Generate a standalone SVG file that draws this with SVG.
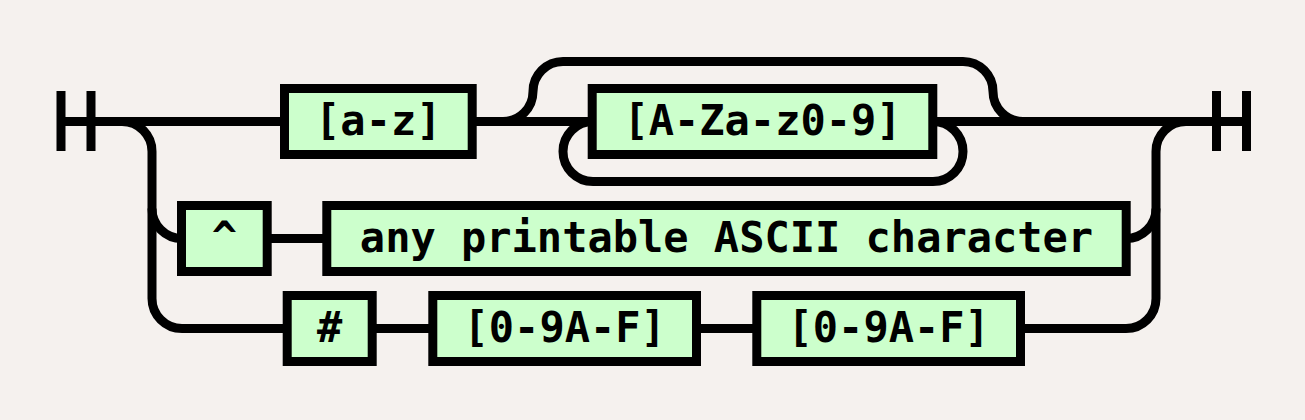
<svg xmlns="http://www.w3.org/2000/svg" width="1305" height="420" viewBox="0 0 1305 420">
<style>
.bg{fill:#f5f1ee}
.line{fill:none;stroke:#000;stroke-width:9}
.box{fill:#ccffcc;stroke:#000;stroke-width:9}
.lbl{font-family:"DejaVu Sans Mono","Liberation Mono",monospace;font-weight:bold;font-size:42px;fill:#000;text-anchor:middle}
</style>
<rect class="bg" x="0" y="0" width="1305" height="420"/>
<g id="connectors">
<path class="line" d="M61 91V151M91 91V151"/>
<path class="line" d="M1216.5 91V151M1246.5 91V151"/>
<path class="line" d="M61 121.5H284.5"/>
<path class="line" d="M472 121.5H592"/>
<path class="line" d="M933 121.5H1246.5"/>
<path class="line" d="M503 121.5A30 30 0 0 0 533 91.5A30 30 0 0 1 563 61.5H963A30 30 0 0 1 993 91.5A30 30 0 0 0 1023 121.5"/>
<path class="line" d="M933 121.5A30 30 0 0 1 963 151.5A30 30 0 0 1 933 181.5H593A30 30 0 0 1 563 151.5A30 30 0 0 1 593 121.5"/>
<path class="line" d="M122 121.5A30 30 0 0 1 152 151.5V298.5A30 30 0 0 0 182 328.5H287"/>
<path class="line" d="M152 208.5A30 30 0 0 0 182 238.5"/>
<path class="line" d="M267 238.5H327"/>
<path class="line" d="M372 328.5H433"/>
<path class="line" d="M696.5 328.5H757"/>
<path class="line" d="M1020.5 328.5H1126A30 30 0 0 0 1156 298.5V151.5A30 30 0 0 1 1186 121.5"/>
<path class="line" d="M1126 238.5A30 30 0 0 0 1156 208.5"/>
</g>
<g id="n-az"><rect class="box" x="284.5" y="88.5" width="187.7" height="66"/><text class="lbl" x="378.3" y="134.5">[a-z]</text></g>
<g id="n-alnum"><rect class="box" x="592.2" y="88.5" width="340.6" height="66"/><text class="lbl" x="762.5" y="134.5">[A-Za-z0-9]</text></g>
<g id="n-caret"><rect class="box" x="181.5" y="205.5" width="85.7" height="66"/><text class="lbl" x="224.3" y="251.5">^</text></g>
<g id="n-ascii"><rect class="box" x="326.8" y="205.5" width="799.4" height="66"/><text class="lbl" x="726.5" y="251.5">any printable ASCII character</text></g>
<g id="n-hash"><rect class="box" x="287.2" y="295.5" width="85" height="66"/><text class="lbl" x="329.7" y="341.5">#</text></g>
<g id="n-hex1"><rect class="box" x="432.8" y="295.5" width="263.7" height="66"/><text class="lbl" x="564.7" y="341.5">[0-9A-F]</text></g>
<g id="n-hex2"><rect class="box" x="756.8" y="295.5" width="263.7" height="66"/><text class="lbl" x="888.7" y="341.5">[0-9A-F]</text></g>
</svg>
